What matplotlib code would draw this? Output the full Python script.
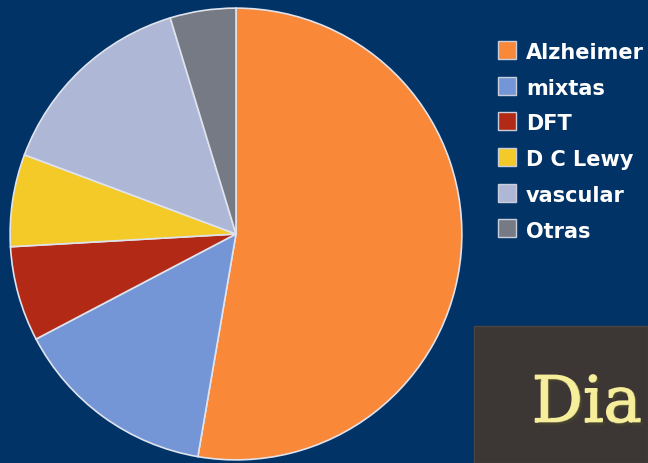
import matplotlib.pyplot as plt
import matplotlib.patches as mpatches
import matplotlib.patheffects as pe

# porcentaje de casos por tipo de demencia
tipos = ['Alzheimer', 'mixtas', 'DFT', 'D C Lewy', 'vascular', 'Otras']
porcentajes = [52.7, 14.6, 6.8, 6.6, 14.6, 4.7]
colores = ['#f98838', '#7496d6', '#b22a16', '#f4ca28', '#aeb8d6', '#767a84']

fondo = '#023366'

fig = plt.figure(figsize=(6.48, 4.63), dpi=100)
fig.patch.set_facecolor(fondo)

W, H = 648, 463
cx, cy, r = 236, 234, 227
ax = fig.add_axes([(cx - r) / W, (H - cy - r) / H, 2 * r / W, 2 * r / H])
ax.set_facecolor(fondo)
ax.pie(porcentajes, colors=colores, startangle=90, counterclock=False,
       radius=1, wedgeprops=dict(edgecolor='#dfe3ee', linewidth=1.2))
ax.set_xlim(-1.005, 1.005)
ax.set_ylim(-1.005, 1.005)
ax.set_aspect('equal')
ax.axis('off')

# leyenda hecha a mano
for i, (t, c) in enumerate(zip(tipos, colores)):
    y = 53 + i * 35.7
    sq = mpatches.Rectangle((498 / W, 1 - (y + 6) / H), 18 / W, 18 / H,
                            transform=fig.transFigure, facecolor=c,
                            edgecolor='#c8cedc', linewidth=1)
    fig.patches.append(sq)
    fig.text(526 / W, 1 - y / H, t, color='white', fontsize=15,
             fontweight='bold', family='DejaVu Sans', va='center', ha='left')

# recuadro del título
caja = mpatches.Rectangle((474 / W, 0), 1 - 474 / W, 1 - 326 / H,
                          transform=fig.transFigure, facecolor='#3c3734',
                          edgecolor='#4a4540', linewidth=1)
fig.patches.append(caja)
fig.text(532 / W, 1 - 422 / H, 'Dia', color='#f6ee9a', fontsize=46,
         family='DejaVu Serif', va='baseline', ha='left',
         path_effects=[pe.Stroke(linewidth=1.2, foreground='#f6ee9a'),
                       pe.withSimplePatchShadow(offset=(2, -2), alpha=0.6),
                       pe.Normal()])

fig.savefig('out.png', dpi=100, facecolor=fondo)
